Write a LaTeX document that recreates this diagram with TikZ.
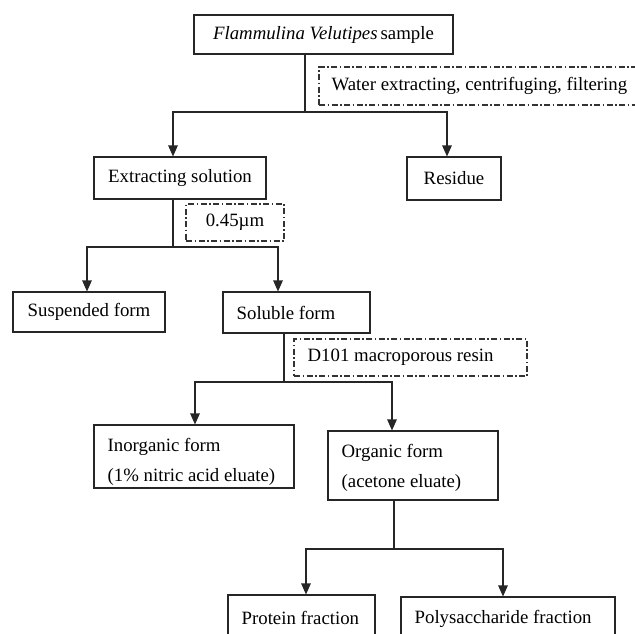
\documentclass[tikz,border=0pt]{standalone}
\usepackage{fontspec}
\setmainfont{Liberation Serif}
\usetikzlibrary{arrows.meta}
\newcommand{\myfont}{\fontsize{18.8}{30}\selectfont}
\tikzset{
  box/.style={draw=black!85, line width=1.1pt, inner sep=0pt, font=\myfont},
  ddbox/.style={box, draw=black!80, line width=1.1pt, dash pattern=on 6pt off 2.5pt on 1.5pt off 2.5pt},
  txt/.style={inner sep=0pt, font=\myfont, align=left, anchor=west},
  conn/.style={draw=black!85, line width=1.2pt},
  arr/.style={conn, -{Triangle[length=11pt,width=9.5pt]}},
}
\begin{document}
\begin{tikzpicture}[x=1pt,y=-1pt]
\useasboundingbox (0,0) rectangle (635,633);
\clip (0,0) rectangle (635,633);
% boxes
\node[box, minimum width=259pt, minimum height=39pt] (top) at (323.5,34.5) {\textit{Flammulina Velutipes}\,sample};
\node[ddbox, minimum width=340pt, minimum height=38pt] (water) at (489,86) {};
\node[txt] (waterT) at ([xshift=13pt]water.west) {Water extracting, centrifuging, filtering};
\node[box, minimum width=172pt, minimum height=42pt] (ext) at (180,178) {Extracting solution};
\node[box, minimum width=94pt, minimum height=43pt] (res) at (454,178.5) {Residue};
\node[ddbox, minimum width=98pt, minimum height=37pt] (filt) at (235,222.5) {0.45µm};
\node[box, minimum width=152pt, minimum height=40pt] (susp) at (89,312) {Suspended form};
\node[box, minimum width=147pt, minimum height=41pt] (sol) at (296.5,312.5) {};
\node[txt] (solT) at ([xshift=14pt]sol.west) {Soluble form};
\node[ddbox, minimum width=233pt, minimum height=37pt] (resin) at (410.5,357.5) {};
\node[txt] (resinT) at ([xshift=14pt]resin.west) {D101 macroporous resin};
\node[box, minimum width=200pt, minimum height=63pt] (inorg) at (194,456.5) {};
\node[txt] (inorgT) at ([xshift=14pt,yshift=-5pt]inorg.west) {Inorganic form\\(1\% nitric acid eluate)};
\node[box, minimum width=170pt, minimum height=69pt] (org) at (413,465.5) {};
\node[txt] (orgT) at ([xshift=14pt,yshift=-2pt]org.west) {Organic form\\(acetone eluate)};
\node[box, minimum width=147pt, minimum height=50pt] (prot) at (301.5,620) {};
\node[txt] (protT) at ([xshift=14pt]prot.west |- 0,618) {Protein fraction};
\node[box, minimum width=214pt, minimum height=50pt] (poly) at (508,622) {};
\node[txt] (polyT) at ([xshift=14pt]poly.west |- 0,619) {Polysaccharide fraction};
% connectors
\coordinate (j1) at (305,112);
\draw[conn] (top.south -| j1) -- (j1);
\draw[arr] (j1) -| ([xshift=-7pt]ext.north);
\draw[arr] (j1) -| ([xshift=-7pt]res.north);
\coordinate (j2) at (173,247);
\draw[conn] (ext.south -| j2) -- (j2);
\draw[arr] (j2) -| ([xshift=-2pt]susp.north);
\draw[arr] (j2) -| ([xshift=-18.5pt]sol.north);
\coordinate (j3) at (284,382);
\draw[conn] (sol.south -| j3) -- (j3);
\draw[arr] (j3) -| (inorg.north -| 195,0);
\draw[arr] (j3) -| (org.north -| 392,0);
\coordinate (j4) at (394,549);
\draw[conn] (org.south -| j4) -- (j4);
\draw[arr] (j4) -| (prot.north -| 306,0);
\draw[arr] (j4) -| (poly.north -| 503,0);
\end{tikzpicture}
\end{document}
